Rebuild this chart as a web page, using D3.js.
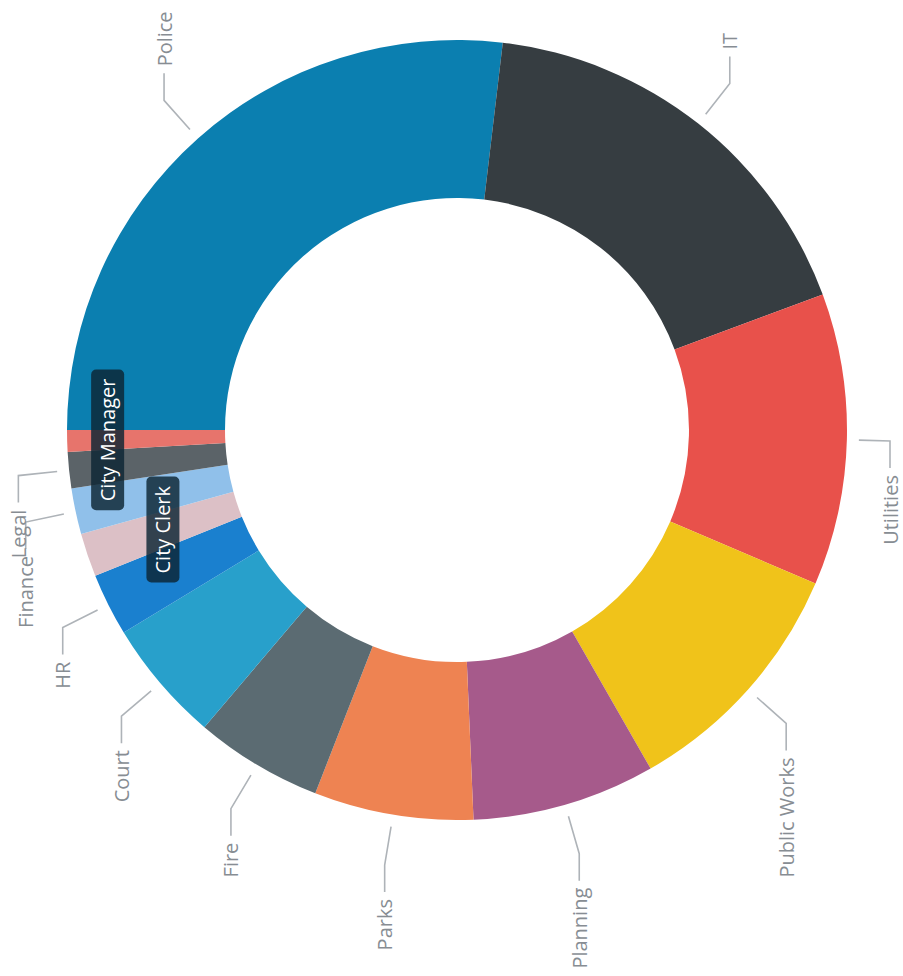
<!DOCTYPE html>
<html>
<head>
<meta charset="utf-8">
<script src="https://cdn.jsdelivr.net/npm/d3@7"></script>
<style>
  html, body { margin: 0; padding: 0; background: #fff; }
  svg { display: block; }
</style>
</head>
<body>
<div id="chart"></div>
<script>
// Department share of budget (%)
const departments = ['Police', 'IT', 'Utilities', 'Public Works', 'Planning', 'Parks',
  'Fire', 'Court', 'HR', 'City Clerk', 'Finance', 'Legal', 'City Manager'];
const shares = [26.9, 17.5, 12.1, 10.3, 7.6, 6.6, 5.3, 5.1, 2.6, 1.8, 1.9, 1.5, 0.9];
const colors = ['#0b7fb0', '#363d41', '#e8514b', '#f0c31a', '#a65a8b', '#ee8352',
  '#5b6b72', '#28a0cb', '#1a80cf', '#dcc0c6', '#90c0ea', '#5b6368', '#e7746c'];
// labels drawn as dark badges inside the ring, the rest get leader lines
const badgeLabels = ['City Manager', 'City Clerk'];

const renderDonut = (parent, size) => {
  const [width, height] = size;
  const cx = 457, cy = 430;
  const outerR = 390, innerR = 232;
  const font = '"Open Sans", Roboto, sans-serif';

  const svg = parent.append('svg')
    .attr('width', width)
    .attr('height', height);

  const data = departments.map((d, i) => ({ name: d, value: shares[i], color: colors[i] }));

  // chart is turned a quarter to the left, so Police starts at 9 o'clock
  const pie = d3.pie()
    .sort(null)
    .value(d => d.value)
    .startAngle(-Math.PI / 2)
    .endAngle(1.5 * Math.PI);

  const arc = d3.arc().innerRadius(innerR).outerRadius(outerR);
  const arcs = pie(data);

  const g = svg.append('g').attr('transform', `translate(${cx},${cy})`);

  g.selectAll('path.slice')
    .data(arcs)
    .join('path')
      .attr('class', 'slice')
      .attr('fill', d => d.data.color)
      .attr('d', arc);

  // leader lines + labels
  const polar = (a, r) => [r * Math.sin(a), -r * Math.cos(a)];
  const outer = arcs.filter(d => !badgeLabels.includes(d.data.name));
  const maxX = width - cx - 13;

  const labelPts = outer.map(d => {
    const a = (d.startAngle + d.endAngle) / 2;
    const p1 = polar(a, 402);
    const p2 = polar(a, 441);
    p2[0] = Math.min(p2[0], maxX);
    const up = p2[1] < 0;
    const p3 = [p2[0], p2[1] + (up ? -27 : 27)];
    return { d, p1, p2, p3, up };
  });

  g.selectAll('polyline.leader')
    .data(labelPts)
    .join('polyline')
      .attr('class', 'leader')
      .attr('fill', 'none')
      .attr('stroke', '#aeb3b8')
      .attr('stroke-width', 1.6)
      .attr('points', l => [l.p1, l.p2, l.p3].map(p => p.join(',')).join(' '));

  g.selectAll('text.label')
    .data(labelPts)
    .join('text')
      .attr('class', 'label')
      .attr('transform', l => `translate(${l.p3[0]},${l.p3[1] + (l.up ? -7 : 7)}) rotate(-90)`)
      .attr('text-anchor', l => l.up ? 'start' : 'end')
      .attr('dominant-baseline', 'central')
      .attr('font-family', font)
      .attr('font-size', 20)
      .attr('fill', '#878d93')
      .text(l => l.d.data.name);

  // badge labels for the thin slices
  const badgeR = { 'City Manager': 350, 'City Clerk': 311 };
  const badges = g.selectAll('g.badge')
    .data(arcs.filter(d => badgeLabels.includes(d.data.name)))
    .join('g')
      .attr('class', 'badge')
      .attr('transform', d => {
        const p = polar((d.startAngle + d.endAngle) / 2, badgeR[d.data.name]);
        return `translate(${p[0]},${p[1]}) rotate(-90)`;
      });

  badges.append('text')
    .attr('text-anchor', 'middle')
    .attr('dominant-baseline', 'central')
    .attr('font-family', font)
    .attr('font-size', 20)
    .attr('fill', '#fff')
    .text(d => d.data.name);

  badges.each(function () {
    const b = d3.select(this);
    const box = b.select('text').node().getBBox();
    b.insert('rect', 'text')
      .attr('x', box.x - 9)
      .attr('y', -16)
      .attr('width', box.width + 18)
      .attr('height', 33)
      .attr('rx', 5)
      .attr('fill', '#0c2533')
      .attr('fill-opacity', 0.82);
  });
};

renderDonut(d3.select('#chart'), [903, 976]);
</script>
</body>
</html>
